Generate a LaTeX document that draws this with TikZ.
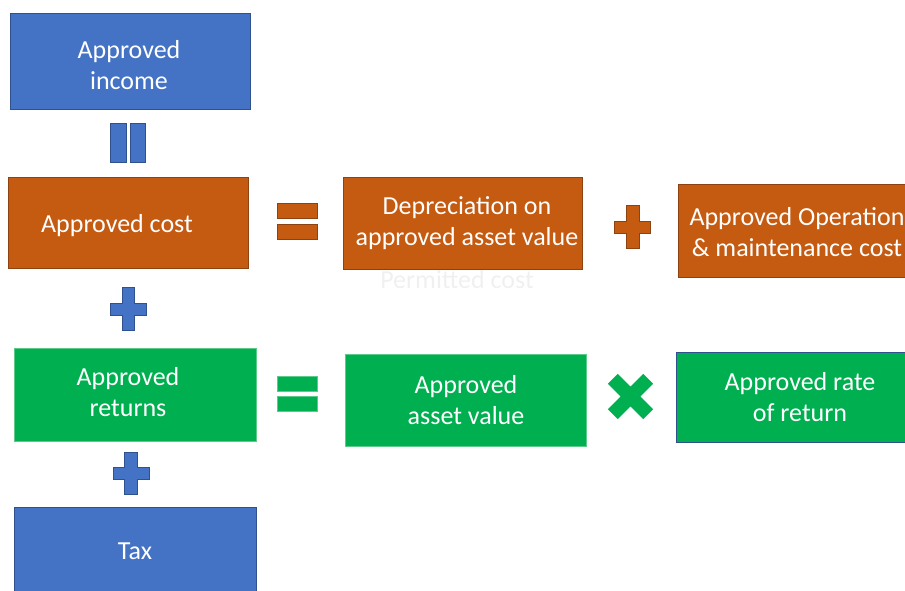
\documentclass[tikz,border=0pt]{standalone}
\usepackage{fontspec}
\setmainfont{Carlito}
\definecolor{bluefill}{HTML}{4472C4}
\definecolor{blueline}{HTML}{2F528F}
\definecolor{orangefill}{HTML}{C55A11}
\definecolor{orangeline}{HTML}{8E4210}
\definecolor{greenfill}{HTML}{00B050}
\definecolor{greenline}{HTML}{5CCB8A}
\begin{document}
\begin{tikzpicture}[x=1pt,y=-1pt,
  bluebox/.style={draw=blueline, fill=bluefill, line width=0.8pt, inner sep=0pt},
  orangebox/.style={draw=orangeline, fill=orangefill, line width=0.8pt, inner sep=0pt},
  greenbox/.style={draw=greenline, fill=greenfill, line width=0.6pt, inner sep=0pt},
  ratebox/.style={draw=blueline, fill=greenfill, line width=0.8pt, inner sep=0pt},
  lbl/.style={text=white, align=center, inner sep=0pt, font=\fontsize{26}{31}\selectfont},
  ghost/.style={text=white!94!black, inner sep=0pt, font=\fontsize{26}{31}\selectfont},
  blueshape/.style={draw=blueline, fill=bluefill, line width=0.7pt},
  orangeshape/.style={draw=orangeline, fill=orangefill, line width=0.7pt},
  greenshape/.style={draw=greenline, fill=greenfill, line width=0.5pt},
  xshape/.style={fill=greenfill}
]
\useasboundingbox (0,0) rectangle (905,591);
\clip (0,0) rectangle (905,591);

% faint hidden text
\node[ghost, anchor=base] (ghosttext) at (457,288) {Permitted cost};

% boxes
\node[bluebox, minimum width=240pt, minimum height=96pt] (income) at (130,61) {};
\node[orangebox, minimum width=240pt, minimum height=91pt] (cost) at (128,222.5) {};
\node[orangebox, minimum width=239pt, minimum height=92pt] (depr) at (462.5,223) {};
\node[orangebox, minimum width=234pt, minimum height=93pt] (om) at (795,230.5) {};
\node[greenbox, minimum width=242pt, minimum height=93pt] (returns) at (135,394.5) {};
\node[greenbox, minimum width=241pt, minimum height=92pt] (asset) at (465.5,400) {};
\node[ratebox, minimum width=248pt, minimum height=90pt] (rate) at (800,397) {};
\node[bluebox, minimum width=242pt, minimum height=90pt] (tax) at (135,552) {};

% labels
\node[lbl] (incomet) at (129,65) {Approved\\income};
\node[lbl] (costt) at (117,226) {Approved cost};
\node[lbl] (deprt) at (467,223) {Depreciation on\\approved asset value};
\node[lbl] (omt) at (797,232) {Approved Operation\\\& maintenance cost};
\node[lbl] (returnst) at (128,392.5) {Approved\\returns};
\node[lbl] (assett) at (466,400.5) {Approved\\asset value};
\node[lbl] (ratet) at (800,397.5) {Approved rate\\of return};
\node[lbl] (taxt) at (135,551.5) {Tax};

% vertical equals (blue)
\draw[blueshape] (110,123) rectangle (126,162);
\draw[blueshape] (130,123) rectangle (145,162);

% orange equals
\draw[orangeshape] (277,203) rectangle (317,218);
\draw[orangeshape] (277,224) rectangle (317,239);

% green equals
\draw[greenshape] (277,376) rectangle (317,391);
\draw[greenshape] (277,396) rectangle (317,411);

% blue plus 1
\draw[blueshape] (122,287) -- (134,287) -- (134,303) -- (146,303) -- (146,315) -- (134,315)
  -- (134,330) -- (122,330) -- (122,315) -- (110,315) -- (110,303) -- (122,303) -- cycle;
% blue plus 2
\draw[blueshape] (124,452) -- (137,452) -- (137,467) -- (149,467) -- (149,479) -- (137,479)
  -- (137,494) -- (124,494) -- (124,479) -- (113,479) -- (113,467) -- (124,467) -- cycle;
% orange plus
\draw[orangeshape] (626,205) -- (639,205) -- (639,221) -- (650,221) -- (650,233) -- (639,233)
  -- (639,248) -- (626,248) -- (626,233) -- (614,233) -- (614,221) -- (626,221) -- cycle;

% green multiply
\begin{scope}[shift={(630.5,396.5)}, rotate=45]
\fill[xshape] (-7,-25) -- (7,-25) -- (7,-7) -- (25,-7) -- (25,7) -- (7,7)
  -- (7,25) -- (-7,25) -- (-7,7) -- (-25,7) -- (-25,-7) -- (-7,-7) -- cycle;
\end{scope}
\end{tikzpicture}
\end{document}
